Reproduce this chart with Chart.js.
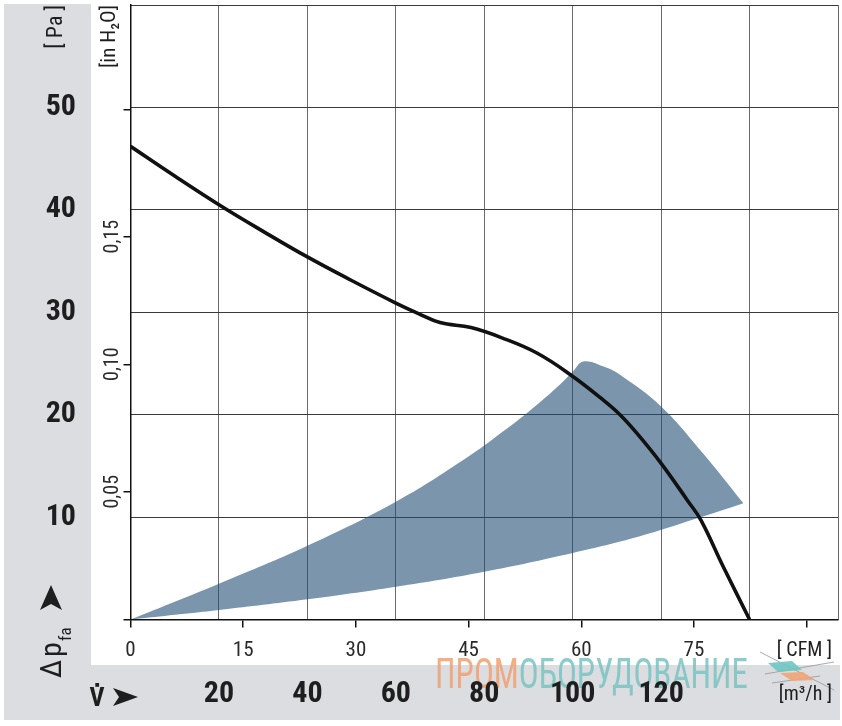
<!DOCTYPE html>
<html>
<head>
<meta charset="utf-8">
<script src="https://cdn.jsdelivr.net/npm/chart.js@4.4.1/dist/chart.umd.min.js"></script>
<style>
  html, body { margin: 0; padding: 0; background: #fff; }
  #wrap { position: relative; width: 842px; height: 726px; }
  .band { position: absolute; left: 4px; top: 4px; width: 836px; height: 716px; background: #dcdde0; }
  .paper { position: absolute; left: 91px; top: 0; width: 751px; height: 665px; background: #fff; }
  canvas { position: absolute; left: 0; top: 0; }
</style>
</head>
<body>
<div id="wrap">
  <div class="band"></div>
  <div class="paper"></div>
  <canvas id="fanChart" width="842" height="726"></canvas>
</div>
<script>
var NARROW = "'Roboto Condensed', 'Liberation Sans Narrow', Roboto, sans-serif";
var M3H_PER_CFM = 1.699;
var PA_PER_INH2O = 249.09;
var FILL = 'rgba(33, 78, 117, 0.6)';

// fan curve, flow in m3/h, pressure in Pa
var flowM3h = [0, 10, 20, 30, 40, 50, 60, 65, 70, 77, 84, 92, 99.5, 107, 110.7, 114.5, 120, 126, 129, 134, 140];
var pressurePa = [46.2, 43.3, 40.5, 37.9, 35.4, 33.1, 30.9, 29.9, 29.0, 28.5, 27.5, 26.0, 23.9, 21.4, 20.0, 18.2, 15.25, 11.6, 9.7, 5.2, 0];

// operating range: upper edge + outer arc, and lower edge
var rangeTopFlow = [0, 20, 40, 60, 75, 85, 92, 97, 100, 102.4, 107, 110.7, 120, 129.5, 138.6];
var rangeTopPa = [0, 3.5, 7.2, 11.5, 15.5, 18.6, 21.0, 22.9, 24.2, 25.2, 24.7, 23.9, 20.8, 16.2, 11.35];
var rangeLowFlow = [0, 20, 40, 60, 80, 100, 115, 128, 138.6];
var rangeLowPa = [0, 0.93, 1.97, 3.2, 4.67, 6.5, 8.1, 9.85, 11.35];

// tick labels that are printed
var m3hLabels = [20, 40, 60, 80, 100, 120];
var cfmLabels = [0, 15, 30, 45, 60, 75];
var paLabels = [10, 20, 30, 40, 50];
var inH2OTicks = [0.05, 0.10, 0.15];
var inH2OLabels = ['0,05', '0,10', '0,15'];

function points(xs, ys) {
  return xs.map(function (x, i) { return { x: x, y: ys[i] }; });
}

function fitWidth(w) {
  return function (scale) {
    scale.width = w;
    scale.paddingTop = 0;
    scale.paddingBottom = 0;
  };
}
function fitHeight(h) {
  return function (scale) {
    scale.height = h;
    scale.paddingLeft = 0;
    scale.paddingRight = 0;
  };
}

var decorations = {
  id: 'decorations',
  beforeDraw: function (chart) {
    var ctx = chart.ctx;
    ctx.save();
    // watermark
    ctx.font = '43px ' + NARROW;
    ctx.textBaseline = 'alphabetic';
    ctx.textAlign = 'left';
    var a = 'ПРОМ', b = 'ОБОРУДОВАНИЕ';
    var wa = ctx.measureText(a).width, wb = ctx.measureText(b).width;
    var sx = 313 / (wa + wb);
    ctx.translate(435, 688);
    ctx.scale(sx, 1);
    ctx.fillStyle = 'rgba(240, 160, 112, 0.85)';
    ctx.fillText(a, 0, 0);
    ctx.fillStyle = 'rgba(120, 195, 193, 0.85)';
    ctx.fillText(b, wa, 0);
    ctx.restore();

    // little logo
    ctx.save();
    ctx.strokeStyle = 'rgba(150,150,150,0.8)';
    ctx.lineWidth = 1;
    ctx.beginPath();
    ctx.moveTo(760, 652); ctx.lineTo(834, 690);
    ctx.moveTo(765, 674); ctx.lineTo(834, 662);
    ctx.moveTo(772, 683); ctx.lineTo(820, 676);
    ctx.stroke();
    ctx.fillStyle = 'rgba(110, 200, 195, 0.9)';
    ctx.beginPath();
    ctx.moveTo(768, 663); ctx.lineTo(792, 661); ctx.lineTo(802, 670); ctx.lineTo(778, 672);
    ctx.closePath(); ctx.fill();
    ctx.fillStyle = 'rgba(240, 165, 120, 0.9)';
    ctx.beginPath();
    ctx.moveTo(780, 673); ctx.lineTo(803, 672); ctx.lineTo(815, 680); ctx.lineTo(792, 681);
    ctx.closePath(); ctx.fill();
    ctx.restore();
  },
  afterDraw: function (chart) {
    var ctx = chart.ctx;
    ctx.save();
    ctx.fillStyle = '#1e1e1e';

    // units at the right end of the flow axes
    ctx.font = '20px ' + NARROW;
    ctx.textAlign = 'right';
    ctx.textBaseline = 'middle';
    ctx.fillText('[ CFM ]', 832, 651);
    ctx.fillText('[m³/h ]', 832, 695);

    // V-dot with arrow
    ctx.font = 'bold 26px ' + NARROW;
    ctx.textAlign = 'center';
    ctx.textBaseline = 'alphabetic';
    ctx.fillText('V', 97, 706);
    ctx.fillRect(95.3, 683, 3.8, 3.8);
    ctx.beginPath();
    ctx.moveTo(113, 688); ctx.lineTo(138, 697); ctx.lineTo(113, 706); ctx.lineTo(119, 697);
    ctx.closePath(); ctx.fill();

    // delta p_fa with arrow, rotated
    ctx.save();
    ctx.translate(61, 678);
    ctx.rotate(-Math.PI / 2);
    ctx.textAlign = 'left';
    ctx.font = '30px ' + NARROW;
    ctx.fillText('Δ', 0, 0);
    ctx.fillText('p', 21, 0);
    ctx.font = '17px ' + NARROW;
    ctx.fillText('fa', 37, 10);
    ctx.restore();
    ctx.beginPath();
    ctx.moveTo(51, 585); ctx.lineTo(62, 610); ctx.lineTo(51, 604); ctx.lineTo(40, 610);
    ctx.closePath(); ctx.fill();
    ctx.restore();
  }
};

var ctx = document.getElementById('fanChart').getContext('2d');
var fanChart = new Chart(ctx, {
  type: 'line',
  data: {
    datasets: [{
      label: 'Kennlinie',
      data: points(flowM3h, pressurePa),
      borderColor: '#111',
      borderWidth: 3.6,
      pointRadius: 0,
      fill: false,
      tension: 0.4,
      xAxisID: 'x',
      yAxisID: 'y'
    }, {
      label: 'Arbeitsbereich oben',
      data: points(rangeTopFlow, rangeTopPa),
      borderColor: 'transparent',
      backgroundColor: FILL,
      pointRadius: 0,
      fill: '+1',
      tension: 0.4,
      xAxisID: 'x',
      yAxisID: 'y'
    }, {
      label: 'Arbeitsbereich unten',
      data: points(rangeLowFlow, rangeLowPa),
      borderColor: 'transparent',
      pointRadius: 0,
      fill: false,
      tension: 0.4,
      xAxisID: 'x',
      yAxisID: 'y'
    }]
  },
  options: {
    responsive: false,
    animation: false,
    layout: { padding: { left: 37, top: 5, right: 4, bottom: 6 } },
    plugins: {
      legend: { display: false },
      tooltip: { enabled: false }
    },
    scales: {
      x: {
        type: 'linear',
        position: 'bottom',
        weight: 2,
        min: 0,
        max: 160,
        grid: { color: '#6a6a6a', lineWidth: 1, drawTicks: false },
        border: { display: false },
        ticks: {
          stepSize: 20,
          padding: 11,
          autoSkip: false,
          maxRotation: 0,
          color: '#1e1e1e',
          font: { family: NARROW, size: 30, weight: 'bold' },
          callback: function (v) { return m3hLabels.indexOf(v) >= 0 ? String(v) : ''; }
        },
        afterFit: fitHeight(55)
      },
      xCfm: {
        type: 'linear',
        position: 'bottom',
        weight: 1,
        min: 0,
        max: 160 / M3H_PER_CFM,
        grid: { drawOnChartArea: false, tickLength: 8, color: '#111', lineWidth: 1.5 },
        border: { display: true, color: '#111', width: 1.5 },
        ticks: {
          stepSize: 15,
          includeBounds: false,
          padding: 11,
          autoSkip: false,
          maxRotation: 0,
          color: '#2a2a2a',
          font: { family: NARROW, size: 21 },
          callback: function (v) { return cfmLabels.indexOf(v) >= 0 ? String(v) : ''; }
        },
        afterFit: fitHeight(45.5)
      },
      y: {
        type: 'linear',
        position: 'left',
        weight: 2,
        min: 0,
        max: 60,
        grid: { color: '#3a3a3a', lineWidth: 1, drawTicks: false },
        border: { display: false },
        ticks: {
          stepSize: 10,
          padding: 16,
          color: '#1e1e1e',
          font: { family: NARROW, size: 30, weight: 'bold' },
          callback: function (v) { return paLabels.indexOf(v) >= 0 ? String(v) : ''; }
        },
        title: {
          display: true,
          text: '[ Pa ]',
          align: 'end',
          color: '#1e1e1e',
          padding: { top: 6, bottom: 0 },
          font: { family: NARROW, size: 22 }
        },
        afterFit: fitWidth(55)
      },
      yIn: {
        type: 'linear',
        position: 'left',
        weight: 1,
        min: 0,
        max: 60 / PA_PER_INH2O,
        grid: { drawOnChartArea: false, tickLength: 7, color: '#111', lineWidth: 1.5 },
        border: { display: true, color: '#111', width: 1.5 },
        ticks: {
          stepSize: 0.05,
          includeBounds: false,
          minRotation: 90,
          maxRotation: 90,
          labelOffset: -17,
          padding: 10.5,
          color: '#2a2a2a',
          font: { family: NARROW, size: 20 },
          callback: function (v) {
            for (var i = 0; i < inH2OTicks.length; i++) {
              if (Math.abs(v - inH2OTicks[i]) < 1e-6) return inH2OLabels[i];
            }
            return '';
          }
        },
        title: {
          display: true,
          text: '[in H₂O]',
          align: 'end',
          color: '#1e1e1e',
          padding: { top: 5, bottom: 0 },
          font: { family: NARROW, size: 21 }
        },
        afterFit: fitWidth(38.5)
      }
    }
  },
  plugins: [decorations]
});
</script>
</body>
</html>
